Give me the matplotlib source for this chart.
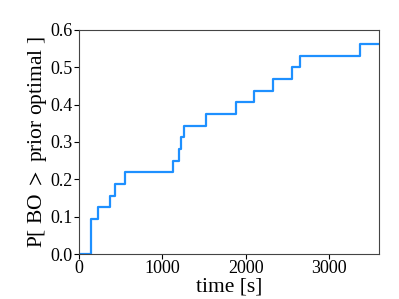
import matplotlib
matplotlib.use("Agg")
import matplotlib.pyplot as plt
import numpy as np

plt.rcParams['font.family'] = ['Liberation Serif', 'DejaVu Serif']
plt.rcParams['mathtext.fontset'] = 'stix'

times = [0, 125, 145, 232, 368, 436, 552, 1124, 1196, 1228, 1260, 1524, 1880, 2100, 2324, 2560, 2652, 3372, 3600]
probs = [0.0, 0.0, 0.09375, 0.125, 0.15625, 0.1875, 0.21875, 0.25, 0.28125, 0.3125, 0.34375,
         0.375, 0.40625, 0.4375, 0.46875, 0.5, 0.53125, 0.5625, 0.5625]

fig = plt.figure(figsize=(3.99, 2.99), dpi=100)
ax = fig.add_axes([0.198, 0.1505, 0.752, 0.7495])
ax.plot(times, probs, drawstyle='steps-post', color='#1E90FF', lw=1.6)
ax.set_xlim(0, 3600)
ax.set_ylim(0, 0.6)
ax.set_xticks([0, 1000, 2000, 3000])
ax.set_yticks([0.0, 0.1, 0.2, 0.3, 0.4, 0.5, 0.6])
ax.set_yticklabels(['0.0', '0.1', '0.2', '0.3', '0.4', '0.5', '0.6'])
ax.tick_params(labelsize=13, length=3.5, pad=1)
ax.set_xlabel('time [s]', fontsize=15.5, labelpad=0)
ax.set_ylabel(r'P[ BO $>$ prior optimal ]', fontsize=15.5, labelpad=1)
for s in ax.spines.values():
    s.set_color('#444444')
fig.savefig('out.png', dpi=100)
